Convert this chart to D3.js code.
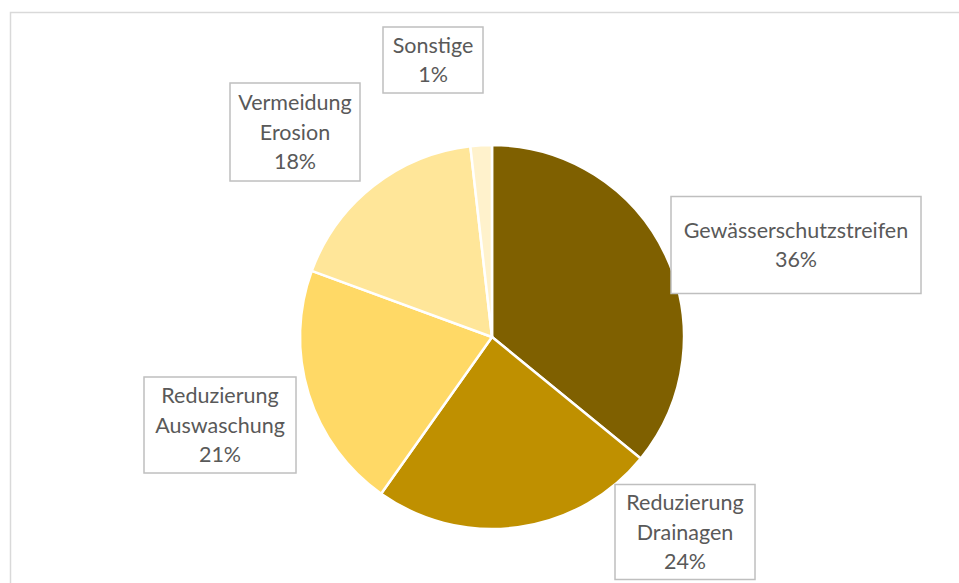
<!DOCTYPE html>
<html>
<head>
<meta charset="utf-8">
<script src="https://cdn.jsdelivr.net/npm/d3@7"></script>
<style>
  body { margin: 0; background: #fff; }
  svg { display: block; }
</style>
</head>
<body>
<div id="pie-chart"></div>
<script>
// Data
var categories = ["Gewässerschutzstreifen", "Reduzierung Drainagen", "Reduzierung Auswaschung", "Vermeidung Erosion", "Sonstige"];
var values = [35.9, 23.9, 20.8, 17.6, 1.8];
var percentLabels = ["36%", "24%", "21%", "18%", "1%"];
var labelLines = [["Gewässerschutzstreifen"], ["Reduzierung", "Drainagen"], ["Reduzierung", "Auswaschung"], ["Vermeidung", "Erosion"], ["Sonstige"]];
var colors = ["#7f6000", "#bf9000", "#ffd966", "#ffe699", "#fff2cc"];

// label box centres and sizes (layout)
var boxes = [
    { cx: 796, cy: 245, w: 250, h: 97 },
    { cx: 685, cy: 532, w: 140, h: 95 },
    { cx: 220, cy: 425, w: 152, h: 96 },
    { cx: 295, cy: 132, w: 130, h: 98 },
    { cx: 433, cy: 60, w: 100, h: 66 }
];

var width = 959, height = 583;
var cx = 492, cy = 337, radius = 192;

var svg = d3.select("#pie-chart")
    .append("svg")
    .attr("width", width)
    .attr("height", height);

// chart area frame
svg.append("rect")
    .attr("x", 10.5)
    .attr("y", 12.5)
    .attr("width", 980)
    .attr("height", 600)
    .attr("fill", "none")
    .attr("stroke", "#d9d9d9")
    .attr("stroke-width", 1.5);

var pie = d3.pie().sort(null).value(function (d) { return d; });
var arc = d3.arc().innerRadius(0).outerRadius(radius);

var g = svg.append("g")
    .attr("transform", "translate(" + cx + "," + cy + ")");

g.selectAll("path")
    .data(pie(values))
    .enter()
    .append("path")
    .attr("d", arc)
    .attr("fill", function (d, i) { return colors[i]; })
    .attr("stroke", "#fff")
    .attr("stroke-width", 2.5)
    .attr("stroke-linejoin", "round");

// data labels
var labels = svg.selectAll("g.label")
    .data(categories)
    .enter()
    .append("g")
    .attr("class", "label")
    .attr("transform", function (d, i) { return "translate(" + boxes[i].cx + "," + boxes[i].cy + ")"; });

labels.append("rect")
    .attr("x", function (d, i) { return -boxes[i].w / 2; })
    .attr("y", function (d, i) { return -boxes[i].h / 2; })
    .attr("width", function (d, i) { return boxes[i].w; })
    .attr("height", function (d, i) { return boxes[i].h; })
    .attr("fill", "#fff")
    .attr("stroke", "#bfbfbf")
    .attr("stroke-width", 1.5);

labels.each(function (d, i) {
    var lines = labelLines[i].concat([percentLabels[i]]);
    var lh = 29.5;
    var t = d3.select(this).append("text")
        .attr("text-anchor", "middle")
        .attr("font-family", "Lato, 'Open Sans', sans-serif")
        .attr("font-size", "21.5px")
        .attr("fill", "#595959");
    lines.forEach(function (l, j) {
        t.append("tspan")
            .attr("x", 0)
            .attr("y", (j - (lines.length - 1) / 2) * lh)
            .attr("dy", "0.35em")
            .text(l);
    });
});
</script>
</body>
</html>
